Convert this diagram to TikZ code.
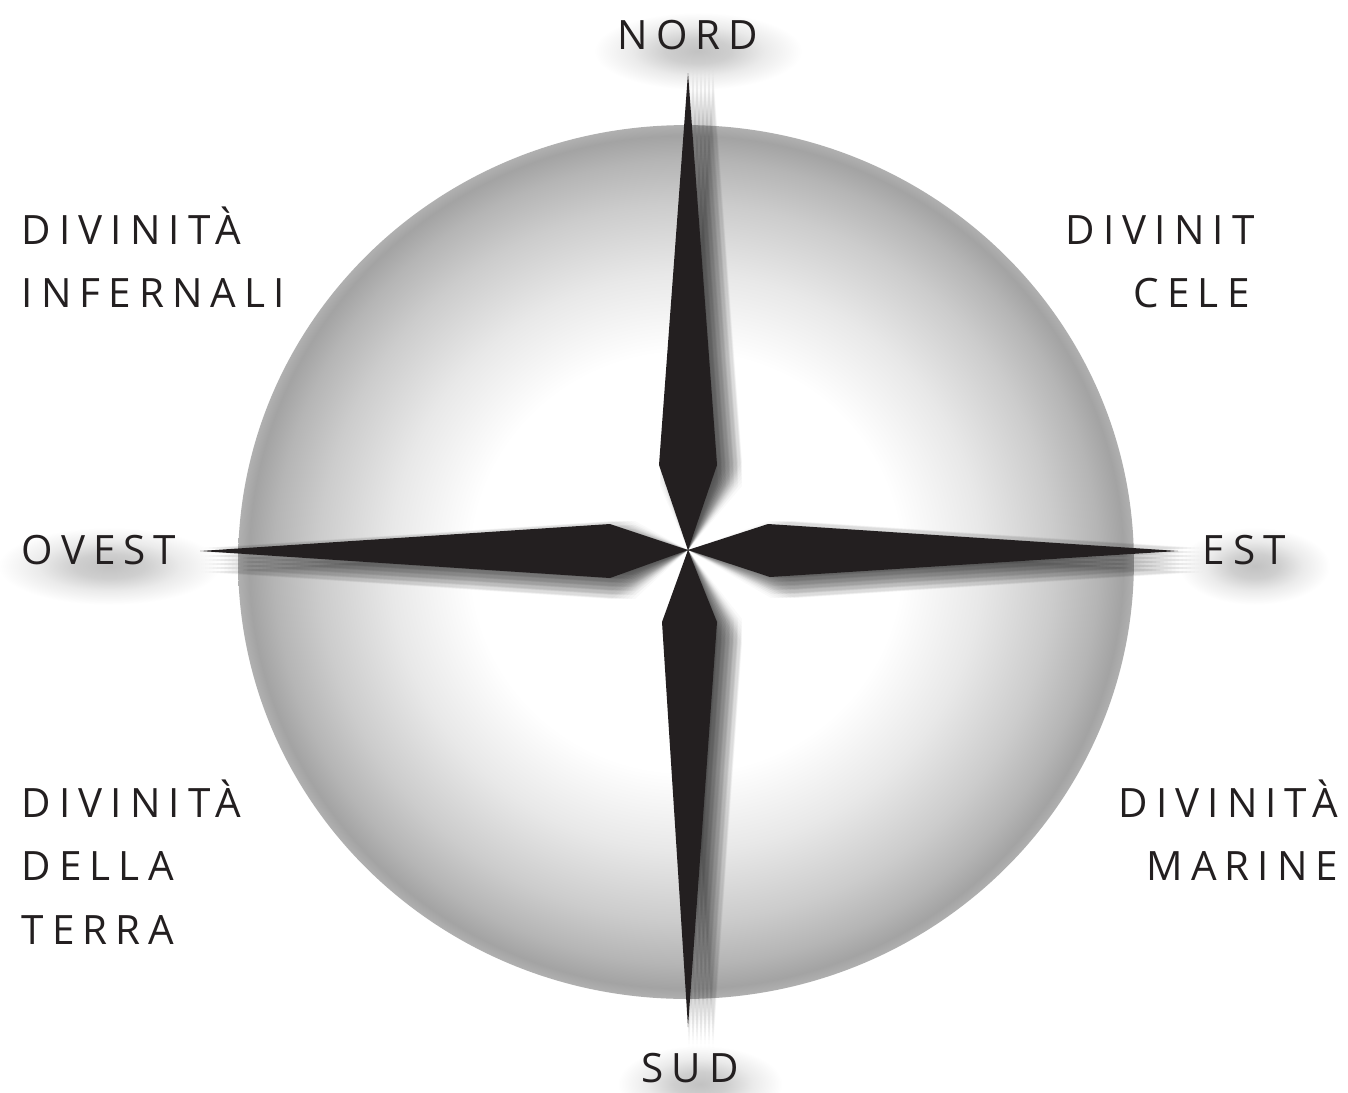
\documentclass[tikz,border=0pt]{standalone}
\usepackage{fontspec}
\newfontfamily\runefont{Open Sans}[LetterSpace=20]
\usetikzlibrary{backgrounds}
\definecolor{ink}{HTML}{231F20}
\pgfdeclareradialshading{globe}{\pgfpoint{0bp}{0bp}}{%
  color(0bp)=(white); color(12bp)=(white); color(16.5bp)=(gray!18); color(20.5bp)=(gray!40);
  color(23bp)=(gray!58); color(24.4bp)=(gray!72); color(25bp)=(gray!62); color(50bp)=(gray!62)}
\pgfdeclareradialshading{haze}{\pgfpoint{0bp}{0bp}}{%
  color(0bp)=(black!24); color(8bp)=(black!19); color(16bp)=(black!8);
  color(25bp)=(white); color(50bp)=(white)}

\begin{document}
\begin{tikzpicture}[
  x=0.02cm, y=-0.02cm,
  lbl/.style={font=\runefont\fontsize{23}{36}\selectfont, text=ink, inner sep=2pt},
  cloud/.style={shading=haze},
  needles/.style={insert path={
    (688,73) -- (717,465) -- (mid) -- (659,465) -- cycle
    (688,1027) -- (717,622) -- (mid) -- (662,622) -- cycle
    (200,551) -- (610,524) -- (mid) -- (610,578) -- cycle
    (1178,551) -- (768,524) -- (mid) -- (770,577) -- cycle}}
]
\useasboundingbox (0,0) rectangle (1348,1092);
\begin{scope}[on background layer]
  \fill[white] (0,0) rectangle (1348,1092);
\end{scope}
% the globe
\coordinate (mid) at (688,550);
\shade[shading=globe] (686,562) ellipse [x radius=8.96cm, y radius=8.74cm];
% soft shadow of the needles, then the needles
\foreach \dx in {-12,-8,...,12}
  \foreach \dy in {-12,-8,...,12}
    \fill[black, opacity=0.018, shift={(13+\dx,9+\dy)}, needles];
\fill[ink, needles];
% points of the compass
\node[lbl] (nord) at (688,35) {NORD};
\node[lbl] (sud) at (690,1068) {SUD};
\node[lbl, anchor=west] (ovest) at (18,550) {OVEST};
\node[lbl, anchor=west] (est) at (1199,550) {EST};
\begin{scope}[on background layer]
  \foreach \lab in {nord,sud,ovest,est}
    \shade[cloud] ([shift={(-20,-4)}]\lab.north west) rectangle ([shift={(40,36)}]\lab.south east);
\end{scope}
% the gods of each quarter
\node[lbl, anchor=north west, align=left] (inferi) at (18,203) {DIVINITÀ\\INFERNALI};
\begin{scope}
  \clip (0,0) rectangle (1258,1092);
  \node[lbl, anchor=north west, align=left] (celesti) at (1062,203)
    {DIVINITÀ\\\hspace*{1.36cm}CELESTI};
\end{scope}
\node[lbl, anchor=north west, align=left] (terra) at (18,776) {DIVINITÀ\\DELLA\\TERRA};
\node[lbl, anchor=north east, align=right] (marine) at (1342,776) {DIVINITÀ\\MARINE};
\end{tikzpicture}
\end{document}
